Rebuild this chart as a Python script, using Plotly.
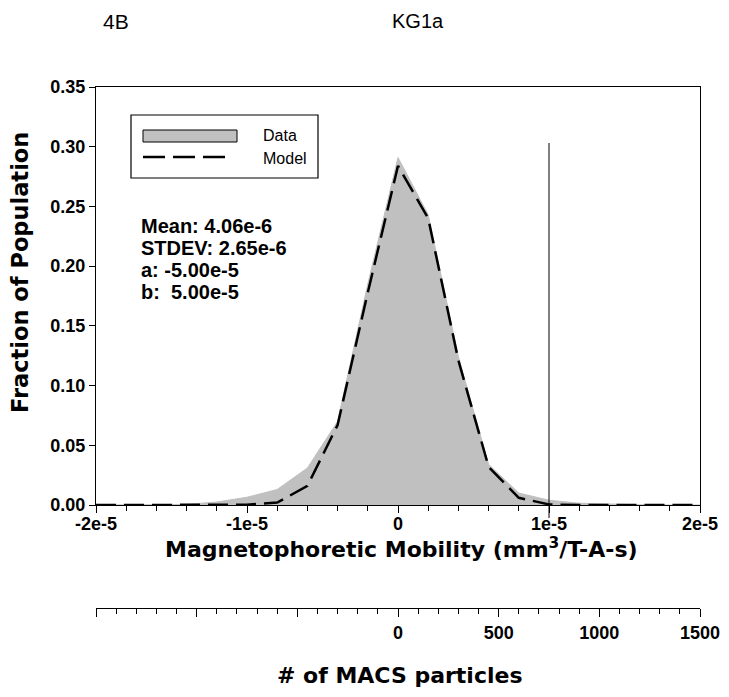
import plotly.graph_objects as go

# ---- data ----
mobility = [-2.0e-5, -1.8e-5, -1.6e-5, -1.4e-5, -1.2e-5, -1.0e-5, -8e-6, -6e-6, -4e-6, -2e-6,
            0.0, 2e-6, 4e-6, 6e-6, 8e-6, 1.0e-5, 1.2e-5, 1.4e-5, 1.6e-5, 1.8e-5, 2.0e-5]
data_frac = [0, 0, 0, 0.0005, 0.0025, 0.0065, 0.013, 0.031, 0.070, 0.185,
             0.291, 0.243, 0.124, 0.034, 0.010, 0.004, 0.0015, 0.0006, 0.0002, 0, 0]
model_frac = [0, 0, 0, 0, 0, 0.0002, 0.002, 0.016, 0.067, 0.178,
              0.284, 0.240, 0.121, 0.032, 0.006, 0.0005, 0, 0, 0, 0, 0]

x_tickvals = [-2e-5, -1e-5, 0, 1e-5, 2e-5]
x_ticktext = ["-2e-5", "-1e-5", "0", "1e-5", "2e-5"]
macs_tickvals = [-1500, -1000, -500, 0, 500, 1000, 1500]
macs_ticktext = ["", "", "", "0", "500", "1000", "1500"]
stats_lines = ["Mean: 4.06e-6", "STDEV: 2.65e-6", "a: -5.00e-5", "b:\u00a0 5.00e-5"]
legend_labels = ["Data", "Model"]
cutoff_x = 1e-5

# page offset (browser body margin)
O = 8
W, H = 729 - O, 697 - O
# plot area in page pixels: x 96..700, y 87..608
L, T = 96 - O, 87 - O
R = W - (700 - O)
B = H - (608 - O)
PW, PH = W - L - R, H - T - B
def px(xp):  # page pixel x -> paper
    return (xp - O - L) / PW
def py(yp):  # page pixel y -> paper
    return (H - B - (yp - O)) / PH

FONT = "Liberation Sans, Arial, sans-serif"
TFONT = "DejaVu Sans, sans-serif"
GRAY = "#c0c0c0"
DASH = "20px,8px"

fig = go.Figure()
fig.add_trace(go.Scatter(x=mobility, y=data_frac, mode="lines", fill="tozeroy",
                         fillcolor=GRAY, line=dict(color=GRAY, width=1),
                         showlegend=False, hoverinfo="skip"))
fig.add_trace(go.Scatter(x=mobility, y=model_frac, mode="lines",
                         line=dict(color="black", width=2.5, dash=DASH),
                         showlegend=False, hoverinfo="skip"))
# invisible trace to carry the secondary (particle count) axis
fig.add_trace(go.Scatter(x=macs_tickvals, y=[None] * len(macs_tickvals), xaxis="x2",
                         mode="lines", showlegend=False, hoverinfo="skip"))

fig.update_layout(
    width=W, height=H,
    margin=dict(l=L, r=R, t=T, b=B, autoexpand=False),
    paper_bgcolor="white", plot_bgcolor="white",
    showlegend=False,
    xaxis=dict(range=[-2e-5, 2e-5], tickvals=x_tickvals, ticktext=x_ticktext,
               anchor="y", showline=True, linecolor="black", linewidth=1.2, mirror=True,
               ticks="outside", ticklen=7, tickwidth=1, tickcolor="black",
               ticklabelstandoff=-5,
               minor=dict(dtick=2e-6, ticks="outside", ticklen=5, tickwidth=1, tickcolor="black"),
               showgrid=False, zeroline=False, automargin=False,
               tickfont=dict(family=FONT, size=18, color="black", weight="bold")),
    yaxis=dict(range=[0, 0.35], dtick=0.05, tickformat=".2f", domain=[py(505), 1],
               showline=True, linecolor="black", linewidth=1.2, mirror=True,
               ticks="outside", ticklen=6, tickwidth=1, tickcolor="black",
               showgrid=False, zeroline=False, automargin=False,
               tickfont=dict(family=FONT, size=18, color="black", weight="bold")),
    xaxis2=dict(range=[-1500, 1500], tickvals=macs_tickvals, ticktext=macs_ticktext,
                overlaying="x", anchor="free", position=0, side="bottom",
                showline=True, linecolor="black", linewidth=1.2,
                ticks="outside", ticklen=8, tickwidth=1, tickcolor="black",
                minor=dict(dtick=100, ticks="outside", ticklen=5, tickwidth=1, tickcolor="black"),
                showgrid=False, zeroline=False, automargin=False,
                tickfont=dict(family=FONT, size=18, color="black", weight="bold")),
)

shapes = []
# cutoff line
shapes.append(dict(type="line", xref="x", yref="paper", x0=cutoff_x, x1=cutoff_x,
                   y0=py(518), y1=py(143), line=dict(color="black", width=1)))
# legend box
shapes.append(dict(type="rect", xref="paper", yref="paper", x0=px(131), x1=px(318),
                   y0=py(178), y1=py(115), line=dict(color="black", width=1.2),
                   fillcolor="white", layer="above"))
shapes.append(dict(type="rect", xref="paper", yref="paper", x0=px(143), x1=px(237),
                   y0=py(142), y1=py(130), line=dict(color="black", width=1),
                   fillcolor=GRAY, layer="above"))
shapes.append(dict(type="line", xref="paper", yref="paper", x0=px(143), x1=px(228),
                   y0=py(157), y1=py(157), line=dict(color="black", width=2.5, dash="22px,8px"),
                   layer="above"))
fig.update_layout(shapes=shapes)

ann = []
for lbl, yp in zip(legend_labels, [136, 158]):
    ann.append(dict(text=lbl, xref="paper", yref="paper", x=px(261), y=py(yp),
                    xanchor="left", yanchor="middle", showarrow=False,
                    font=dict(family=FONT, size=16, color="black")))
for i, s in enumerate(stats_lines):
    ann.append(dict(text=s, xref="paper", yref="paper", x=px(139), y=py(226 + 22 * i),
                    xanchor="left", yanchor="middle", showarrow=False,
                    font=dict(family=FONT, size=20, color="black", weight="bold")))
ann.append(dict(text="Magnetophoretic Mobility (mm<sup>3</sup>/T-A-s)", xref="paper", yref="paper",
                x=px(401), y=py(548), xanchor="center", yanchor="middle", showarrow=False,
                font=dict(family=TFONT, size=22, color="black", weight="bold")))
ann.append(dict(text="# of MACS particles", xref="paper", yref="paper",
                x=px(400), y=py(675), xanchor="center", yanchor="middle", showarrow=False,
                font=dict(family=TFONT, size=22, color="black", weight="bold")))
ann.append(dict(text="Fraction of Population", xref="paper", yref="paper",
                x=px(20), y=py(273), xanchor="center", yanchor="middle", showarrow=False,
                textangle=-90,
                font=dict(family=TFONT, size=22.5, color="black", weight="bold")))
ann.append(dict(text="4B", xref="paper", yref="paper", x=px(116), y=py(21),
                xanchor="center", yanchor="middle", showarrow=False,
                font=dict(family=FONT, size=21, color="black")))
ann.append(dict(text="KG1a", xref="paper", yref="paper", x=px(418), y=py(21),
                xanchor="center", yanchor="middle", showarrow=False,
                font=dict(family=FONT, size=20, color="black")))
fig.update_layout(annotations=ann)

fig.write_html("out.html")
